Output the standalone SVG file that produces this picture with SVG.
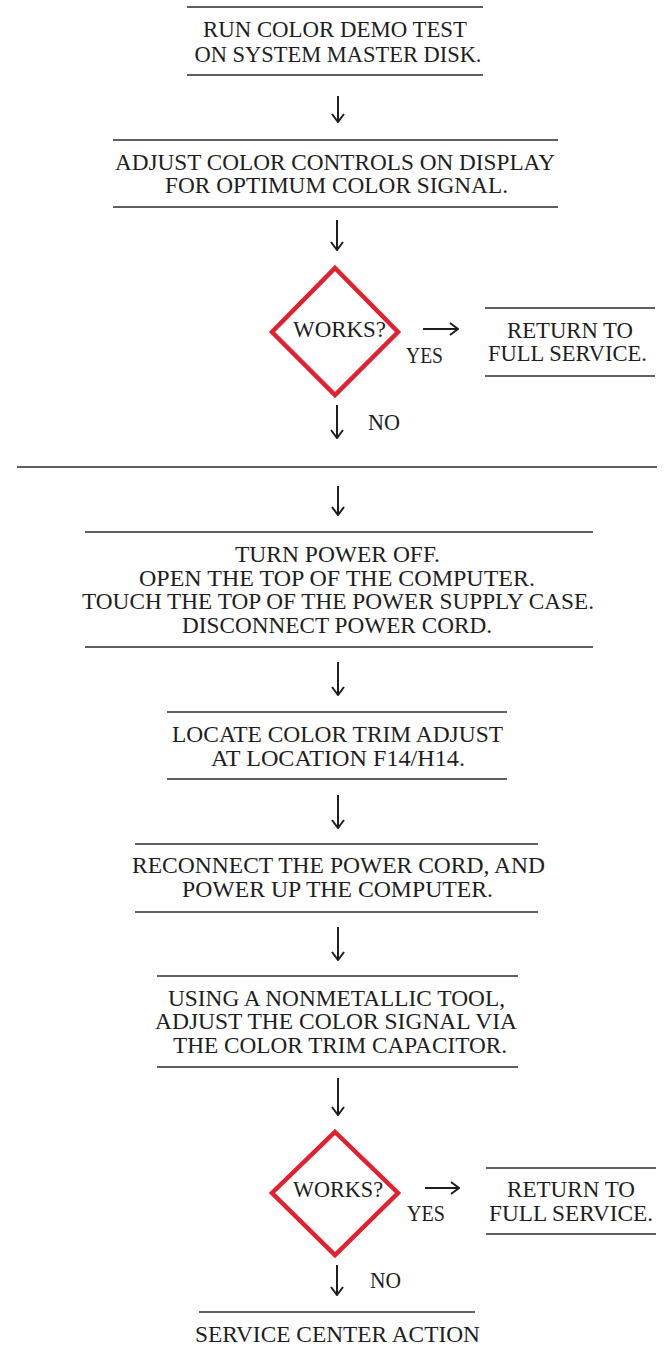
<svg xmlns="http://www.w3.org/2000/svg" width="668" height="1347" viewBox="0 0 668 1347">
<style>
text{font-family:"Liberation Serif","Times New Roman",serif;font-size:22.5px;fill:#1e1e1e;text-anchor:middle}
.t2{font-size:23px}
.rule{stroke:#2a2a2a;stroke-width:1.6;fill:none}
.dia{fill:none;stroke:#e3202f;stroke-width:4.5;stroke-linejoin:miter}
.arr{stroke:#1e1e1e;stroke-width:2;fill:none;marker-end:url(#head)}
</style>
<defs>
<marker id="head" markerUnits="userSpaceOnUse" viewBox="0 0 10 14" refX="9" refY="7" markerWidth="10" markerHeight="14" orient="auto">
<path d="M1,1 L9,7 L1,13" fill="none" stroke="#1e1e1e" stroke-width="2"/>
</marker>
</defs>
<rect width="668" height="1347" fill="#ffffff"/>

<g id="n1">
<line class="rule" x1="187" y1="7" x2="483" y2="7"/>
<text x="335" y="37" textLength="264" lengthAdjust="spacingAndGlyphs">RUN COLOR DEMO TEST</text>
<text x="338" y="62" textLength="287" lengthAdjust="spacingAndGlyphs">ON SYSTEM MASTER DISK.</text>
<line class="rule" x1="187" y1="75" x2="483" y2="75"/>
</g>

<g id="n2">
<line class="rule" x1="113" y1="140" x2="558" y2="140"/>
<text x="335" y="170" textLength="440" lengthAdjust="spacingAndGlyphs">ADJUST COLOR CONTROLS ON DISPLAY</text>
<text x="336.5" y="193" textLength="343" lengthAdjust="spacingAndGlyphs">FOR OPTIMUM COLOR SIGNAL.</text>
<line class="rule" x1="113" y1="207" x2="558" y2="207"/>
</g>

<g id="d1">
<polygon class="dia" points="335,268 398,332 335,395 272,332"/>
<text x="339.5" y="337" textLength="93" lengthAdjust="spacingAndGlyphs">WORKS?</text>
</g>

<g id="r1">
<line class="rule" x1="485" y1="308" x2="655" y2="308"/>
<text x="570" y="338" textLength="126" lengthAdjust="spacingAndGlyphs">RETURN TO</text>
<text x="567.5" y="361" textLength="159" lengthAdjust="spacingAndGlyphs">FULL SERVICE.</text>
<line class="rule" x1="485" y1="376" x2="655" y2="376"/>
</g>

<g id="sep">
<line class="rule" x1="17" y1="467" x2="657" y2="467"/>
</g>

<g id="n3">
<line class="rule" x1="85" y1="532" x2="593" y2="532"/>
<text class="t2" x="337.5" y="562" textLength="205" lengthAdjust="spacingAndGlyphs">TURN POWER OFF.</text>
<text class="t2" x="337" y="586" textLength="396" lengthAdjust="spacingAndGlyphs">OPEN THE TOP OF THE COMPUTER.</text>
<text class="t2" x="338" y="609" textLength="512" lengthAdjust="spacingAndGlyphs">TOUCH THE TOP OF THE POWER SUPPLY CASE.</text>
<text class="t2" x="337" y="633" textLength="310" lengthAdjust="spacingAndGlyphs">DISCONNECT POWER CORD.</text>
<line class="rule" x1="85" y1="647" x2="593" y2="647"/>
</g>

<g id="n4">
<line class="rule" x1="167" y1="712" x2="507" y2="712"/>
<text x="337.5" y="742" textLength="331" lengthAdjust="spacingAndGlyphs">LOCATE COLOR TRIM ADJUST</text>
<text x="338" y="766" textLength="254" lengthAdjust="spacingAndGlyphs">AT LOCATION F14/H14.</text>
<line class="rule" x1="167" y1="779" x2="507" y2="779"/>
</g>

<g id="n5">
<line class="rule" x1="135" y1="844" x2="538" y2="844"/>
<text x="338.5" y="873" textLength="413" lengthAdjust="spacingAndGlyphs">RECONNECT THE POWER CORD, AND</text>
<text x="337.5" y="897" textLength="311" lengthAdjust="spacingAndGlyphs">POWER UP THE COMPUTER.</text>
<line class="rule" x1="135" y1="912" x2="538" y2="912"/>
</g>

<g id="n6">
<line class="rule" x1="157" y1="976" x2="518" y2="976"/>
<text x="336.5" y="1006" textLength="337" lengthAdjust="spacingAndGlyphs">USING A NONMETALLIC TOOL,</text>
<text x="336" y="1029" textLength="362" lengthAdjust="spacingAndGlyphs">ADJUST THE COLOR SIGNAL VIA</text>
<text x="340" y="1053" textLength="334" lengthAdjust="spacingAndGlyphs">THE COLOR TRIM CAPACITOR.</text>
<line class="rule" x1="157" y1="1067" x2="518" y2="1067"/>
</g>

<g id="d2">
<polygon class="dia" points="335,1132 398,1193 335,1255 272,1193"/>
<text x="338" y="1197" textLength="90" lengthAdjust="spacingAndGlyphs">WORKS?</text>
</g>

<g id="r2">
<line class="rule" x1="486" y1="1168" x2="656" y2="1168"/>
<text x="571" y="1197" textLength="128" lengthAdjust="spacingAndGlyphs">RETURN TO</text>
<text x="571" y="1221" textLength="164" lengthAdjust="spacingAndGlyphs">FULL SERVICE.</text>
<line class="rule" x1="486" y1="1234" x2="656" y2="1234"/>
</g>

<g id="n7">
<line class="rule" x1="199" y1="1312" x2="475" y2="1312"/>
<text x="337.5" y="1342" textLength="285" lengthAdjust="spacingAndGlyphs">SERVICE CENTER ACTION</text>
</g>

<g id="connectors">
<line class="arr" x1="338" y1="96" x2="338" y2="122"/>
<line class="arr" x1="337" y1="220" x2="337" y2="250"/>
<line class="arr" x1="337" y1="405" x2="337" y2="438"/>
<line class="arr" x1="338" y1="486" x2="338" y2="515"/>
<line class="arr" x1="338" y1="662" x2="338" y2="695"/>
<line class="arr" x1="338" y1="795" x2="338" y2="828"/>
<line class="arr" x1="338" y1="927" x2="338" y2="960"/>
<line class="arr" x1="338" y1="1078" x2="338" y2="1115"/>
<line class="arr" x1="337" y1="1265" x2="337" y2="1295"/>
<line class="arr" x1="423" y1="329" x2="458" y2="329"/>
<line class="arr" x1="425" y1="1188" x2="459" y2="1188"/>
<text x="424.5" y="363" textLength="37" lengthAdjust="spacingAndGlyphs">YES</text>
<text x="384" y="430" textLength="32" lengthAdjust="spacingAndGlyphs">NO</text>
<text x="426" y="1221" textLength="38" lengthAdjust="spacingAndGlyphs">YES</text>
<text x="385.5" y="1288" textLength="31" lengthAdjust="spacingAndGlyphs">NO</text>
</g>
</svg>
